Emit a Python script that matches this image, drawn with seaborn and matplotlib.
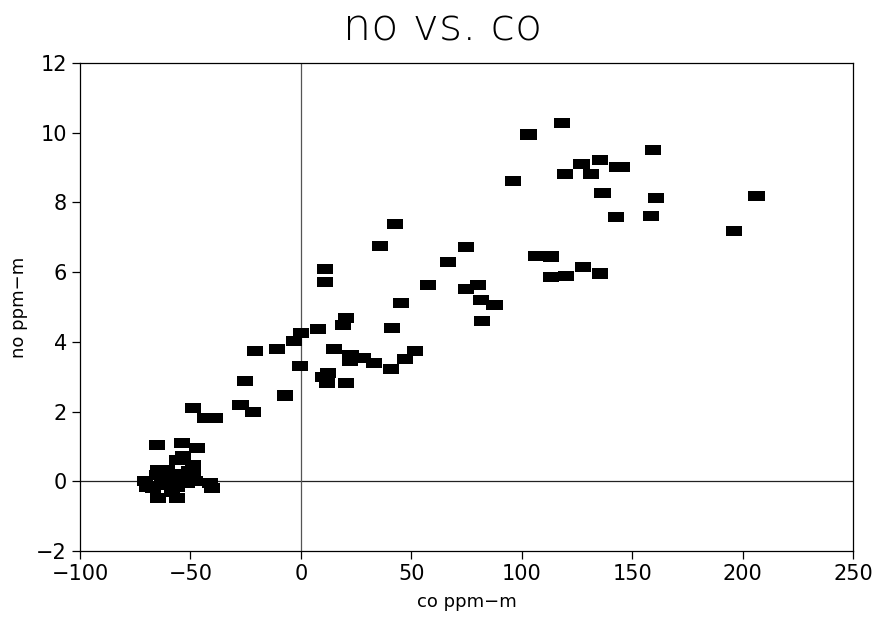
import matplotlib
matplotlib.use("Agg")
import matplotlib.pyplot as plt
import seaborn as sns
import pandas as pd
from matplotlib.path import Path

co = [118.2, 103.1, 159.4, 127.1, 135.4, 143.0, 145.5, 119.7, 131.5, 96.0,
      136.6, 160.7, 206.3, 142.8, 158.5, 196.2, 74.7, 66.6, 106.4, 113.4,
      127.6, 113.1, 120.0, 135.4, 57.5, 74.6, 80.2, 81.7, 87.7, 82.2,
      42.6, 35.7, 11.1, 11.1, 45.2, 20.3, 18.9, 7.6, 41.2, 0.0,
      -3.0, -20.8, -10.8, 15.0, 51.7, 22.5, 22.1, 28.2, 33.1, 47.0,
      40.8, -0.3, 10.1, 12.4, 11.7, 20.3, -25.2, -7.2, -27.3, -21.7,
      -49.0, -43.4, -38.9,
      -65.3, -54.0, -47.2, -56.2, -53.2, -48.7, -64.6, -41.1, -40.4, -64.6,
      -56.0, -70.6, -69.8, -65.3, -63.0, -59.3, -56.2, -52.5, -51.7, -48.7,
      -48.0, -60.8, -66.8, -54.7, -58.5, -62.0, -50.5]
no = [10.27, 9.95, 9.50, 9.11, 9.21, 9.02, 9.02, 8.81, 8.81, 8.61,
      8.27, 8.13, 8.18, 7.58, 7.61, 7.17, 6.72, 6.30, 6.47, 6.45,
      6.14, 5.87, 5.90, 5.96, 5.63, 5.52, 5.63, 5.20, 5.06, 4.59,
      7.39, 6.75, 6.08, 5.72, 5.12, 4.68, 4.48, 4.38, 4.41, 4.25,
      4.03, 3.74, 3.80, 3.80, 3.74, 3.62, 3.44, 3.54, 3.39, 3.52,
      3.22, 3.32, 3.00, 3.10, 2.83, 2.81, 2.88, 2.46, 2.19, 2.00,
      2.10, 1.81, 1.81,
      1.04, 1.09, 0.95, 0.61, 0.71, 0.47, 0.32, -0.06, -0.20, -0.49,
      -0.49, 0.00, -0.15, 0.18, -0.11, 0.04, -0.15, 0.13, -0.06, 0.23,
      0.00, 0.32, -0.20, 0.20, -0.30, 0.10, 0.30]

x_ticks = [-100, -50, 0, 50, 100, 150, 200, 250]
y_ticks = [-2, 0, 2, 4, 6, 8, 10, 12]
x_tick_labels = ["\u2212100", "\u221250", "0", "50", "100", "150", "200", "250"]
y_tick_labels = ["\u22122", "0", "2", "4", "6", "8", "10", "12"]

df = pd.DataFrame({"co": co, "no": no})

sns.set_style("white")
plt.rcParams["font.family"] = ["DejaVu Sans"]
plt.rcParams["text.color"] = "black"
plt.rcParams["axes.labelcolor"] = "black"

fig = plt.figure(figsize=(8.82, 6.25), dpi=100)
ax = fig.add_axes([0.0907, 0.1184, 0.8764, 0.7808])

rect = Path([(-0.8, -0.5), (0.8, -0.5), (0.8, 0.5), (-0.8, 0.5), (-0.8, -0.5)],
            [Path.MOVETO, Path.LINETO, Path.LINETO, Path.LINETO, Path.CLOSEPOLY])

ax.axhline(0, color="#222222", lw=0.9, zorder=1)
ax.axvline(0, color="#555555", lw=0.9, zorder=1)

sns.scatterplot(data=df, x="co", y="no", marker=rect, s=135, color="black",
                edgecolor="none", linewidth=0, ax=ax, zorder=3)

ax.set_xlim(-100, 250)
ax.set_ylim(-2, 12)
ax.set_xticks(x_ticks)
ax.set_yticks(y_ticks)
ax.set_xticklabels(x_tick_labels)
ax.set_yticklabels(y_tick_labels)
ax.tick_params(direction="out", length=6, width=0.9, labelsize=15, colors="black",
               bottom=True, left=True)
for s in ax.spines.values():
    s.set_color("black")
    s.set_linewidth(0.9)

ax.set_xlabel("co ppm\u2212m", fontsize=13, labelpad=6, color="black")
ax.set_ylabel("no ppm\u2212m", fontsize=13, labelpad=6, color="black")
fig.text(0.502, 0.955, "no vs. co", fontsize=32, ha="center", va="center",
         color="black", fontweight="light")

fig.savefig("out.png", dpi=100)
